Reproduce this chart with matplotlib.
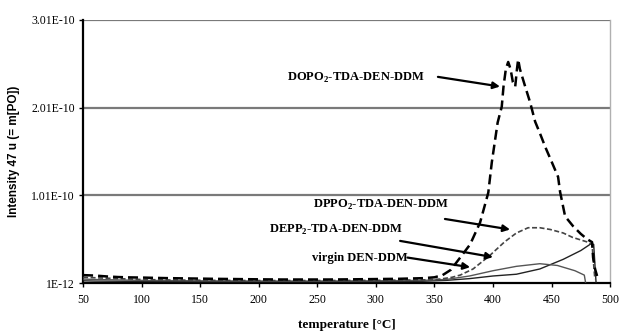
import matplotlib
matplotlib.use("Agg")
import matplotlib.pyplot as plt
import numpy as np

plt.rcParams['font.family'] = ['Liberation Serif', 'DejaVu Serif']
plt.rcParams['mathtext.fontset'] = 'custom'
plt.rcParams['mathtext.rm'] = 'Liberation Serif:bold'
plt.rcParams['mathtext.bf'] = 'Liberation Serif:bold'

# ---- data (intensity in units of 1e-10) ----
dopo_T = [50, 60, 70, 80, 90, 100, 120, 140, 160, 180, 200, 220, 240, 260, 280, 300, 320, 340,
          350, 357, 364, 372, 380.5, 389, 396, 399, 404, 407.5, 409, 411, 413, 415, 417, 419,
          420.5, 421.5, 423, 425, 427.5, 431.7, 436, 440, 445, 450.5, 455.6, 457.3, 461.6,
          468.4, 475, 480.4, 484.6, 485.5, 487.2, 488.9]
dopo_I = [0.10, 0.095, 0.085, 0.078, 0.074, 0.072, 0.066, 0.062, 0.058, 0.055, 0.052, 0.05, 0.05,
          0.05, 0.052, 0.055, 0.058, 0.065, 0.075, 0.10, 0.16, 0.30, 0.45, 0.70, 1.04, 1.385,
          1.84, 2.02, 2.25, 2.45, 2.53, 2.45, 2.30, 2.25, 2.45, 2.56, 2.45, 2.36, 2.25, 2.07,
          1.85, 1.72, 1.55, 1.38, 1.22, 1.05, 0.77, 0.658, 0.57, 0.51, 0.476, 0.30, 0.169, 0.09]

dppo_T = [50, 60, 80, 100, 120, 160, 200, 250, 300, 340, 355, 365, 372, 383, 397, 410, 420,
          430, 440, 449, 460, 468, 480, 484.6, 487]
dppo_I = [0.075, 0.07, 0.06, 0.05, 0.045, 0.04, 0.038, 0.038, 0.04, 0.045, 0.055, 0.075, 0.10,
          0.17, 0.32, 0.48, 0.58, 0.64, 0.64, 0.62, 0.58, 0.53, 0.48, 0.45, 0.055]

depp_T = [50, 60, 80, 100, 150, 200, 250, 300, 340, 360, 380, 400, 420, 440, 455, 470, 478, 479]
depp_I = [0.055, 0.05, 0.045, 0.04, 0.035, 0.033, 0.033, 0.035, 0.04, 0.05, 0.09, 0.15, 0.20,
          0.23, 0.21, 0.15, 0.10, 0.02]

virgin_T = [50, 60, 80, 100, 150, 200, 250, 300, 340, 360, 380, 400, 420, 440, 460, 475, 484,
            486, 488]
virgin_I = [0.035, 0.032, 0.03, 0.028, 0.025, 0.025, 0.025, 0.027, 0.03, 0.04, 0.06, 0.09, 0.11,
            0.17, 0.28, 0.38, 0.46, 0.45, 0.02]

yticks = [0.01, 1.01, 2.01, 3.01]
ytick_labels = ['1E-12', '1.01E-10', '2.01E-10', '3.01E-10']
xticks = [50, 100, 150, 200, 250, 300, 350, 400, 450, 500]

fig = plt.figure(figsize=(6.2, 3.31), dpi=100)
ax = fig.add_axes([0.134, 0.145, 0.850, 0.795])

ax.set_xlim(50, 500)
ax.set_ylim(0.01, 3.01)
for y in yticks[1:]:
    ax.axhline(y, color='#7a7a7a', lw=1.6, zorder=1)

ax.plot(virgin_T, virgin_I, color='#222222', lw=1.0, zorder=3)
ax.plot(depp_T, depp_I, color='#555555', lw=1.0, zorder=3)
ax.plot(dppo_T, dppo_I, color='#444444', lw=1.2, ls=(0, (3, 1.5)), zorder=3)
ax.plot(dopo_T, dopo_I, color='black', lw=1.8, ls=(0, (4, 2)), zorder=4)

ax.set_yticks(yticks)
ax.set_yticklabels(ytick_labels)
ax.set_xticks(xticks)
ax.tick_params(axis='both', labelsize=8.5, length=3, width=1, direction='out', colors='black')
ax.tick_params(axis='y', pad=3)
ax.tick_params(axis='x', pad=5)

for s in ['left', 'bottom']:
    ax.spines[s].set_linewidth(1.6)
    ax.spines[s].set_color('black')
ax.spines['right'].set_color('#b0b0b0')
ax.spines['right'].set_linewidth(1.0)
ax.spines['top'].set_visible(False)

ax.set_xlabel('temperature [°C]', fontsize=9.5, fontweight='bold', labelpad=9)
ax.set_ylabel('Intensity 47 u (= m[PO])', fontsize=8.5, fontweight='bold', labelpad=8,
              family=['Liberation Sans', 'DejaVu Sans'])

tkw = dict(fontsize=9, fontweight='bold', va='center', ha='right')
akw = dict(arrowprops=dict(arrowstyle='-|>', color='black', lw=1.6, mutation_scale=10,
                           shrinkA=0, shrinkB=0))
ax.text(342, 2.35, r'DOPO$_2$-TDA-DEN-DDM', **tkw)
ax.annotate('', xy=(406, 2.25), xytext=(353, 2.36), **akw)
ax.text(362, 0.90, r'DPPO$_2$-TDA-DEN-DDM', **tkw)
ax.annotate('', xy=(414.6, 0.62), xytext=(359, 0.74), **akw)
ax.text(323, 0.62, r'DEPP$_2$-TDA-DEN-DDM', **tkw)
ax.annotate('', xy=(400, 0.305), xytext=(320.7, 0.49), **akw)
ax.text(327, 0.30, 'virgin DEN-DDM', **tkw)
ax.annotate('', xy=(380.5, 0.19), xytext=(327, 0.30), **akw)

fig.savefig('out.png', dpi=100)
